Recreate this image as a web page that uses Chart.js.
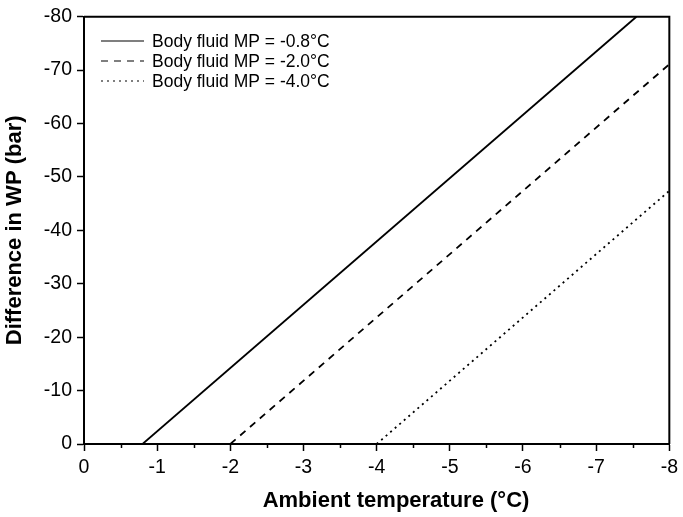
<!DOCTYPE html>
<html>
<head>
<meta charset="utf-8">
<script src="https://cdn.jsdelivr.net/npm/chart.js@4.4.0/dist/chart.umd.min.js"></script>
<style>
  html, body { margin: 0; padding: 0; background: #fff; }
  #wrap { width: 683px; height: 517px; }
</style>
</head>
<body>
<div id="wrap"><canvas id="chart" width="683" height="517"></canvas></div>
<script>
// --- DATA ---
const seriesLabels = ['Body fluid MP = -0.8°C', 'Body fluid MP = -2.0°C', 'Body fluid MP = -4.0°C'];
const solidX = [-0.8, -7.55];
const solidY = [0, -80];
const dashedX = [-2.0, -8];
const dashedY = [0, -71.1];
const dottedX = [-4.0, -8];
const dottedY = [0, -47.4];
const xTicks = [0, -1, -2, -3, -4, -5, -6, -7, -8];
const yTicks = [0, -10, -20, -30, -40, -50, -60, -70, -80];
const xTitle = 'Ambient temperature (°C)';
const yTitle = 'Difference in WP (bar)';

const FONT = "'Liberation Sans', Arial, sans-serif";

const toPoints = (xs, ys) => xs.map((x, i) => ({ x: x, y: ys[i] }));

// Frame, minor x ticks, axis titles and in-plot legend
const framePlugin = {
    id: 'frame',
    afterDraw(chart) {
        const { ctx, chartArea: a } = chart;
        const xs = chart.scales.x;
        ctx.save();
        ctx.strokeStyle = '#000';
        ctx.lineWidth = 2;
        ctx.beginPath();
        ctx.moveTo(a.left, a.top);
        ctx.lineTo(a.right, a.top);
        ctx.lineTo(a.right, a.bottom);
        ctx.stroke();

        // minor ticks on x at half steps
        ctx.lineWidth = 1.5;
        for (let i = 0; i < xTicks.length - 1; i++) {
            const v = (xTicks[i] + xTicks[i + 1]) / 2;
            const px = Math.round(xs.getPixelForValue(v)) + 0.5;
            ctx.beginPath();
            ctx.moveTo(px, a.bottom);
            ctx.lineTo(px, a.bottom + 4);
            ctx.stroke();
        }

        // axis titles
        ctx.fillStyle = '#000';
        ctx.font = 'bold 22px ' + FONT;
        ctx.textAlign = 'center';
        ctx.textBaseline = 'middle';
        ctx.fillText(xTitle, 396, 501);
        ctx.save();
        ctx.translate(15, (a.top + a.bottom) / 2);
        ctx.rotate(-Math.PI / 2);
        ctx.fillText(yTitle, 0, 0);
        ctx.restore();

        // legend
        ctx.font = '17.5px ' + FONT;
        ctx.textAlign = 'left';
        chart.data.datasets.forEach((ds, i) => {
            const y = 41 + i * 20;
            ctx.lineWidth = 1.2;
            ctx.setLineDash(ds.borderDash || []);
            ctx.beginPath();
            ctx.moveTo(101, y);
            ctx.lineTo(144, y);
            ctx.stroke();
            ctx.setLineDash([]);
            ctx.fillText(ds.label, 152, y + 1);
        });
        ctx.restore();
    }
};

new Chart(document.getElementById('chart').getContext('2d'), {
    type: 'scatter',
    data: {
        datasets: [
            { label: seriesLabels[0], data: toPoints(solidX, solidY), borderDash: [] },
            { label: seriesLabels[1], data: toPoints(dashedX, dashedY), borderDash: [7, 6] },
            { label: seriesLabels[2], data: toPoints(dottedX, dottedY), borderDash: [2, 4] }
        ].map(ds => Object.assign(ds, {
            showLine: true,
            borderColor: '#000',
            borderWidth: 1.8,
            pointRadius: 0,
            fill: false
        }))
    },
    options: {
        responsive: false,
        animation: false,
        layout: { padding: { top: 13, right: 12, left: 0, bottom: 0 } },
        plugins: { legend: { display: false }, tooltip: { enabled: false } },
        scales: {
            x: {
                type: 'linear',
                reverse: true,
                min: -8,
                max: 0,
                afterFit(s) { s.height = 73; },
                afterBuildTicks(s) { s.ticks = xTicks.map(v => ({ value: v })); },
                ticks: { color: '#000', font: { family: FONT, size: 19.5 }, padding: 5, maxRotation: 0 },
                grid: { drawOnChartArea: false, drawTicks: true, tickLength: 7, color: '#000', tickWidth: 1.5 },
                border: { display: true, color: '#000', width: 2 }
            },
            y: {
                type: 'linear',
                reverse: true,
                min: -80,
                max: 0,
                afterFit(s) { s.width = 84; },
                afterBuildTicks(s) { s.ticks = yTicks.map(v => ({ value: v })); },
                ticks: { color: '#000', font: { family: FONT, size: 19.5 }, padding: 5 },
                grid: { drawOnChartArea: false, drawTicks: true, tickLength: 7, color: '#000', tickWidth: 1.5 },
                border: { display: true, color: '#000', width: 2 }
            }
        }
    },
    plugins: [framePlugin]
});
</script>
</body>
</html>
